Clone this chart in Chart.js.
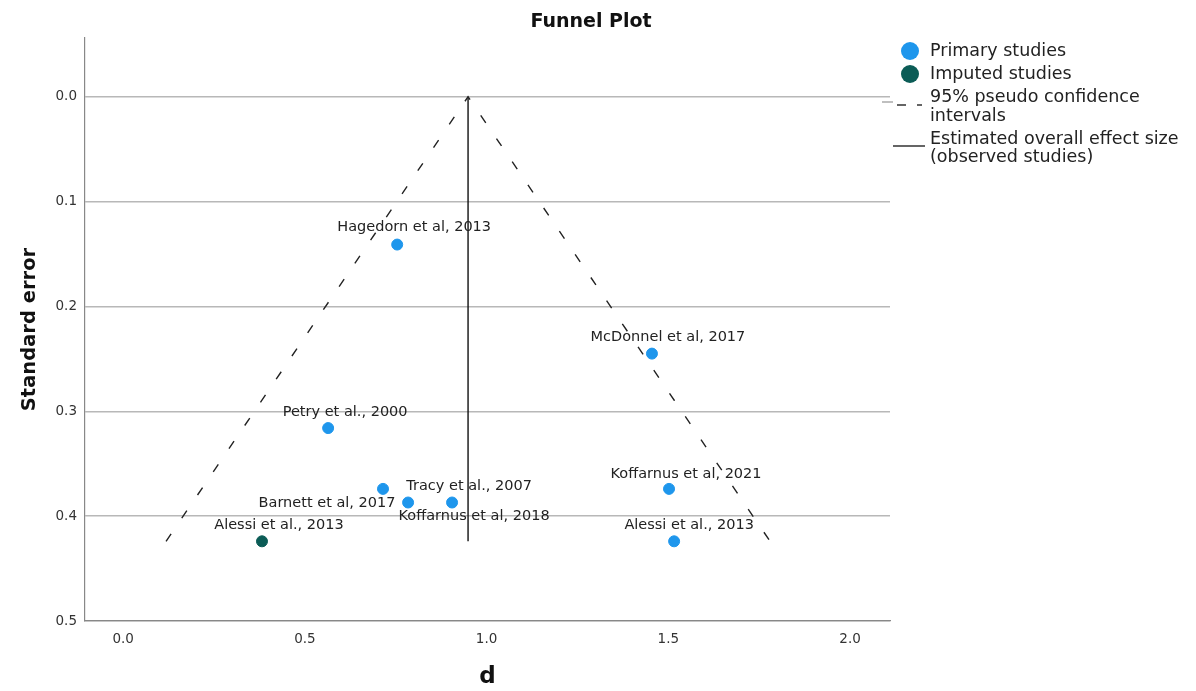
<!DOCTYPE html>
<html>
<head>
<meta charset="utf-8">
<script src="https://cdn.jsdelivr.net/npm/chart.js@4"></script>
<style>
  body { margin: 0; background: #fff; }
  #wrap { width: 1196px; height: 691px; }
</style>
</head>
<body>
<div id="wrap"><canvas id="funnel"></canvas></div>
<script>
// study values (d, standard error)
const primaryNames = ['Hagedorn et al, 2013', 'McDonnel et al, 2017', 'Petry et al., 2000', 'Barnett et al, 2017',
  'Koffarnus et al, 2018', 'Tracy et al., 2007', 'Koffarnus et al, 2021', 'Alessi et al., 2013'];
const primaryD = [0.754, 1.455, 0.564, 0.715, 0.784, 0.905, 1.502, 1.516];
const primarySE = [0.141, 0.245, 0.316, 0.374, 0.387, 0.387, 0.374, 0.424];

const imputedNames = ['Alessi et al., 2013'];
const imputedD = [0.382];
const imputedSE = [0.424];

// 95% pseudo confidence funnel and overall estimate
const ciD = [0.118, 0.949, 1.780];
const ciSE = [0.424, 0.0, 0.424];
const effectD = [0.949, 0.949];
const effectSE = [0.0, 0.424];

const xTicks = [0.0, 0.5, 1.0, 1.5, 2.0];
const yTicks = [0.0, 0.1, 0.2, 0.3, 0.4, 0.5];

const FONT = '"DejaVu Sans", sans-serif';
const blue = '#1e96ec';
const teal = '#0b5c56';

// label offsets (pixels from the point to label centre)
const primaryOffsets = [[17, -17], [16, -16], [17, -16], [-56, 14], [66, 14], [17, -16], [17, -15], [15, -16]];
const imputedOffsets = [[17, -16]];

const toPts = (xs, ys) => xs.map((x, i) => ({ x: x, y: ys[i] }));

const pointLabels = {
  id: 'pointLabels',
  afterDatasetsDraw(chart) {
    const c = chart.ctx;
    c.save();
    c.font = '14.5px ' + FONT;
    c.fillStyle = '#222';
    c.textAlign = 'center';
    c.textBaseline = 'middle';
    [[0, primaryNames, primaryOffsets], [1, imputedNames, imputedOffsets]].forEach(([idx, names, offs]) => {
      chart.getDatasetMeta(idx).data.forEach((pt, i) => {
        c.fillText(names[i], pt.x + offs[i][0], pt.y + offs[i][1]);
      });
    });
    c.restore();
  }
};

const sideLegend = {
  id: 'sideLegend',
  afterDraw(chart) {
    const c = chart.ctx;
    c.save();
    c.font = 'bold 19px ' + FONT;
    c.fillStyle = '#111';
    c.textAlign = 'center';
    c.textBaseline = 'middle';
    c.fillText('Funnel Plot', 591, 22);

    c.font = '17.5px ' + FONT;
    c.textAlign = 'left';
    c.fillStyle = blue;
    c.beginPath(); c.arc(910, 51, 9, 0, Math.PI * 2); c.fill();
    c.fillStyle = teal;
    c.beginPath(); c.arc(910, 74, 9, 0, Math.PI * 2); c.fill();
    c.fillStyle = '#222';
    c.fillText('Primary studies', 930, 51);
    c.fillText('Imputed studies', 930, 74);
    c.fillText('95% pseudo confidence', 930, 97);
    c.fillText('intervals', 930, 116);
    c.fillText('Estimated overall effect size', 930, 139);
    c.fillText('(observed studies)', 930, 157);
    c.lineWidth = 1.5;
    c.strokeStyle = '#aaa';
    c.beginPath();
    c.moveTo(882, 102); c.lineTo(893, 102);
    c.stroke();
    c.strokeStyle = '#333';
    c.beginPath();
    c.moveTo(897, 105); c.lineTo(906, 105);
    c.moveTo(917, 105); c.lineTo(922, 105);
    c.moveTo(893, 146); c.lineTo(925, 146);
    c.stroke();
    c.restore();
  }
};

new Chart(document.getElementById('funnel'), {
  type: 'scatter',
  data: {
    datasets: [
      { label: 'Primary studies', data: toPts(primaryD, primarySE), backgroundColor: blue, borderColor: blue,
        pointRadius: 5.5, pointHoverRadius: 5.5, order: 1 },
      { label: 'Imputed studies', data: toPts(imputedD, imputedSE), backgroundColor: teal, borderColor: teal,
        pointRadius: 5.5, pointHoverRadius: 5.5, order: 1 },
      { label: '95% pseudo confidence intervals', data: toPts(ciD, ciSE), showLine: true, borderColor: '#222',
        borderWidth: 1.4, borderDash: [9, 19], pointRadius: 0, order: 2 },
      { label: 'Estimated overall effect size (observed studies)', data: toPts(effectD, effectSE), showLine: true,
        borderColor: '#111', borderWidth: 1.4, pointRadius: 0, order: 2 }
    ]
  },
  options: {
    responsive: true,
    maintainAspectRatio: false,
    animation: false,
    layout: { padding: { top: 38, right: 306, left: 0, bottom: 0 } },
    plugins: { legend: { display: false }, tooltip: { enabled: false } },
    scales: {
      x: {
        type: 'linear', min: -0.105, max: 2.11,
        afterBuildTicks: s => { s.ticks = xTicks.map(v => ({ value: v })); },
        afterFit: s => { s.height = 70; },
        grid: { display: false },
        border: { display: true, color: '#888', width: 1.2 },
        ticks: { color: '#333', font: { family: FONT, size: 13.5 }, padding: 2, callback: v => v.toFixed(1), maxRotation: 0 },
        title: { display: true, text: 'd', color: '#111', font: { family: FONT, size: 23, weight: 'bold' }, padding: { top: 18, bottom: 0 } }
      },
      y: {
        type: 'linear', reverse: true, min: -0.056, max: 0.5,
        afterBuildTicks: s => { s.ticks = yTicks.map(v => ({ value: v })); },
        afterFit: s => { s.width = 85; },
        grid: { color: '#b8b8b8', lineWidth: 1.5, drawTicks: false },
        border: { display: true, color: '#888', width: 1.2 },
        ticks: { color: '#333', font: { family: FONT, size: 13.5 }, padding: 8, callback: v => v.toFixed(1) },
        title: { display: true, text: 'Standard error', color: '#111', font: { family: FONT, size: 19.5, weight: 'bold' }, padding: { top: 18, bottom: 0 } }
      }
    }
  },
  plugins: [pointLabels, sideLegend]
});
</script>
</body>
</html>
